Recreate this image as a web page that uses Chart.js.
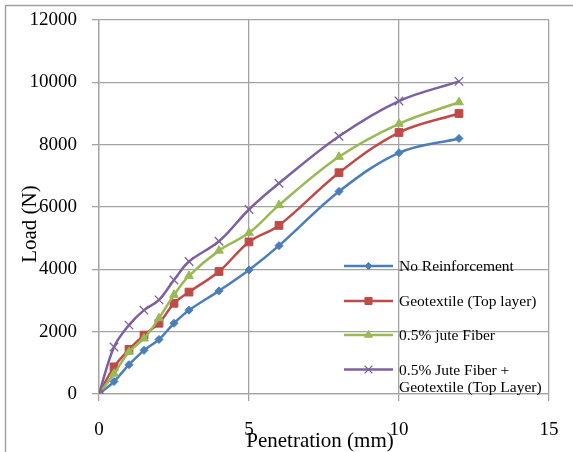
<!DOCTYPE html>
<html>
<head>
<meta charset="utf-8">
<script src="https://cdn.jsdelivr.net/npm/chart.js@4.4.0/dist/chart.umd.min.js"></script>
<style>
html,body{margin:0;padding:0;background:#fff;}
#wrap{position:relative;width:573px;height:452px;}
canvas{display:block;}
</style>
</head>
<body>
<div id="wrap"><canvas id="c" width="573" height="452"></canvas></div>
<script>
// ---- data ----
const penetration = [0, 0.5, 1, 1.5, 2, 2.5, 3, 4, 5, 6, 8, 10, 12];
const noReinforcement = [0, 400, 940, 1400, 1750, 2270, 2690, 3310, 3980, 4760, 6500, 7740, 8200];
const geotextileTop = [0, 870, 1430, 1890, 2270, 2910, 3270, 3930, 4880, 5410, 7100, 8390, 9000];
const juteFiber = [0, 650, 1350, 1780, 2430, 3180, 3790, 4600, 5170, 6060, 7610, 8670, 9360];
const juteGeotextile = [0, 1510, 2210, 2690, 3020, 3660, 4250, 4900, 5920, 6760, 8270, 9400, 10030];
const seriesNames = ['No Reinforcement', 'Geotextile (Top layer)', '0.5% jute Fiber', ['0.5% Jute Fiber +', 'Geotextile (Top Layer)']];
const xTicks = [0, 5, 10, 15];
const yTicks = [0, 2000, 4000, 6000, 8000, 10000, 12000];
const xTitle = 'Penetration (mm)';
const yTitle = 'Load (N)';

const FONT = '"Liberation Serif", "Times New Roman", serif';
const GRID = '#a3a3a3';
const colors = ['#4A7EBB', '#BE4B48', '#98B954', '#7D60A0'];
const styles = ['rectRot', 'rect', 'triangle', 'crossRot'];
const radii = [4, 5.5, 5, 6];
const values = [noReinforcement, geotextileTop, juteFiber, juteGeotextile];

function pts(arr) { return penetration.map((x, i) => ({x: x, y: arr[i]})); }

const datasets = values.map((v, i) => ({
  label: Array.isArray(seriesNames[i]) ? seriesNames[i].join(' ') : seriesNames[i],
  data: pts(v),
  borderColor: colors[i],
  backgroundColor: colors[i],
  pointBackgroundColor: colors[i],
  pointBorderColor: colors[i],
  pointStyle: styles[i],
  pointRadius: radii[i],
  pointBorderWidth: i === 3 ? 1.3 : 1,
  borderWidth: 2.5,
  tension: 0.35,
  fill: false,
  order: 4 - i
}));

const framePlugin = {
  id: 'frame',
  beforeDraw(chart) {
    const ctx = chart.ctx;
    ctx.save();
    ctx.fillStyle = '#fff';
    ctx.fillRect(0, 0, chart.width, chart.height);
    ctx.strokeStyle = '#a0a0a0';
    ctx.lineWidth = 1.5;
    ctx.beginPath();
    ctx.moveTo(5.5, chart.height + 5);
    ctx.lineTo(5.5, 5.5);
    ctx.lineTo(chart.width + 5, 5.5);
    ctx.stroke();
    ctx.restore();
  }
};

const titlesPlugin = {
  id: 'titles',
  afterDraw(chart) {
    const ctx = chart.ctx;
    const a = chart.chartArea;
    ctx.save();
    ctx.fillStyle = '#000';
    ctx.font = '21px ' + FONT;
    ctx.textAlign = 'center';
    ctx.textBaseline = 'alphabetic';
    ctx.fillText(xTitle, (a.left + a.right) / 2 - 4, 447);
    ctx.translate(36, (a.top + a.bottom) / 2 + 17);
    ctx.rotate(-Math.PI / 2);
    ctx.fillText(yTitle, 0, 0);
    ctx.restore();
  }
};

const legendPlugin = {
  id: 'innerLegend',
  afterDraw(chart) {
    const ctx = chart.ctx;
    const rows = [266, 301, 335, 369.5];
    const x0 = 344, x1 = 393, tx = 399;
    ctx.save();
    ctx.font = '15.5px ' + FONT;
    ctx.textAlign = 'left';
    ctx.textBaseline = 'middle';
    seriesNames.forEach((name, i) => {
      const y = rows[i];
      ctx.strokeStyle = colors[i];
      ctx.lineWidth = 2.5;
      ctx.beginPath();
      ctx.moveTo(x0, y);
      ctx.lineTo(x1, y);
      ctx.stroke();
      ctx.fillStyle = colors[i];
      ctx.strokeStyle = colors[i];
      ctx.lineWidth = i === 3 ? 1.3 : 1;
      Chart.helpers.drawPoint(ctx, {pointStyle: styles[i], radius: radii[i] - 0.5, borderWidth: i === 3 ? 1.3 : 1}, (x0 + x1) / 2, y);
      ctx.fillStyle = '#000';
      const lines = Array.isArray(name) ? name : [name];
      lines.forEach((t, k) => ctx.fillText(t, tx, y + 1 + k * 17.5));
    });
    ctx.restore();
  }
};

new Chart(document.getElementById('c'), {
  type: 'line',
  data: { datasets: datasets },
  options: {
    responsive: false,
    animation: false,
    devicePixelRatio: 1,
    layout: { padding: { left: 0, top: 20, right: 24, bottom: 0 } },
    plugins: { legend: { display: false }, tooltip: { enabled: false } },
    scales: {
      x: {
        type: 'linear',
        min: xTicks[0],
        max: xTicks[xTicks.length - 1],
        afterBuildTicks(s) { s.ticks = xTicks.map(v => ({value: v})); },
        afterFit(s) { s.height = 58; s.paddingLeft = 0; s.paddingRight = 0; },
        ticks: { font: { family: FONT, size: 19 }, color: '#000', padding: 18, maxRotation: 0 },
        grid: { color: GRID, lineWidth: 1.3, tickLength: 7 },
        border: { color: GRID, width: 1.3 }
      },
      y: {
        type: 'linear',
        min: yTicks[0],
        max: yTicks[yTicks.length - 1],
        afterBuildTicks(s) { s.ticks = yTicks.map(v => ({value: v})); },
        afterFit(s) { s.width = 99; s.paddingTop = 0; s.paddingBottom = 0; },
        ticks: { font: { family: FONT, size: 19 }, color: '#000', padding: 15, callback: v => String(v) },
        grid: { color: GRID, lineWidth: 1.3, tickLength: 7 },
        border: { color: GRID, width: 1.3 }
      }
    }
  },
  plugins: [framePlugin, titlesPlugin, legendPlugin]
});
</script>
</body>
</html>
